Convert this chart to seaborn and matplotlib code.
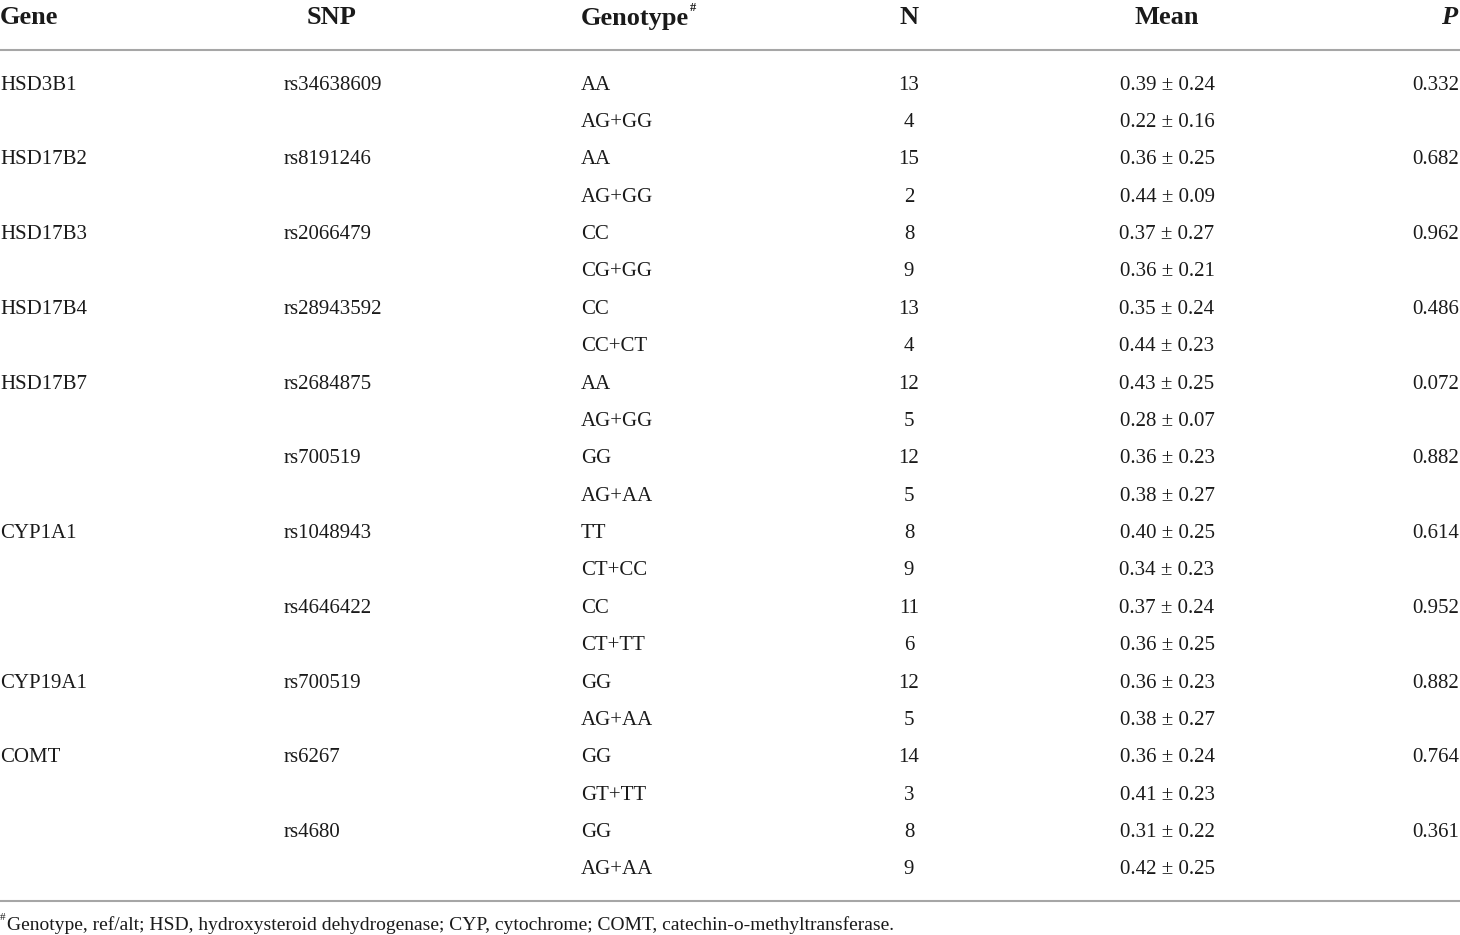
import matplotlib
matplotlib.use("Agg")
import matplotlib.pyplot as plt
import seaborn as sns

# table contents
genes = ["HSD3B1", "", "HSD17B2", "", "HSD17B3", "", "HSD17B4", "", "HSD17B7", "",
         "", "", "CYP1A1", "", "", "", "CYP19A1", "", "COMT", "", "", ""]
snps = ["rs34638609", "", "rs8191246", "", "rs2066479", "", "rs28943592", "", "rs2684875", "",
        "rs700519", "", "rs1048943", "", "rs4646422", "", "rs700519", "", "rs6267", "", "rs4680", ""]
genotypes = ["AA", "AG+GG", "AA", "AG+GG", "CC", "CG+GG", "CC", "CC+CT", "AA", "AG+GG",
             "GG", "AG+AA", "TT", "CT+CC", "CC", "CT+TT", "GG", "AG+AA", "GG", "GT+TT", "GG", "AG+AA"]
n_values = [13, 4, 15, 2, 8, 9, 13, 4, 12, 5, 12, 5, 8, 9, 11, 6, 12, 5, 14, 3, 8, 9]
means = [0.39, 0.22, 0.36, 0.44, 0.37, 0.36, 0.35, 0.44, 0.43, 0.28, 0.36, 0.38,
         0.40, 0.34, 0.37, 0.36, 0.36, 0.38, 0.36, 0.41, 0.31, 0.42]
sds = [0.24, 0.16, 0.25, 0.09, 0.27, 0.21, 0.24, 0.23, 0.25, 0.07, 0.23, 0.27,
       0.25, 0.23, 0.24, 0.25, 0.23, 0.27, 0.24, 0.23, 0.22, 0.25]
p_values = ["0.332", "", "0.682", "", "0.962", "", "0.486", "", "0.072", "",
            "0.882", "", "0.614", "", "0.952", "", "0.882", "", "0.764", "", "0.361", ""]
footnote = "Genotype, ref/alt; HSD, hydroxysteroid dehydrogenase; CYP, cytochrome; COMT, catechin-o-methyltransferase."

sns.set_theme(style="white")
plt.rcParams['font.family'] = ['Liberation Serif', 'DejaVu Serif']

fig = plt.figure(figsize=(14.6, 9.35), dpi=100)
ax = fig.add_axes([0, 0, 1, 1])
ax.set_xlim(0, 1460)
ax.set_ylim(935, 0)
ax.axis("off")

txt = "#1a1a1a"
hsize = 19
bsize = 15

# header
head_y = 18
ax.text(0, head_y, "Gene", fontsize=hsize, fontweight="bold", ha="left", va="center", color=txt)
ax.text(332, head_y, "SNP", fontsize=hsize, fontweight="bold", ha="center", va="center", color=txt)
ax.text(581, head_y, "Genotype", fontsize=hsize, fontweight="bold", ha="left", va="center", color=txt)
ax.text(690, 8, "#", fontsize=9, fontweight="bold", ha="left", va="center", color=txt)
ax.text(909, head_y, "N", fontsize=hsize, fontweight="bold", ha="center", va="center", color=txt)
ax.text(1167, head_y, "Mean", fontsize=hsize, fontweight="bold", ha="center", va="center", color=txt)
ax.text(1457, head_y, "P", fontsize=hsize, fontweight="bold", fontstyle="italic",
        ha="right", va="center", color=txt)

ax.axhline(50, color="#a6a6a6", lw=1.5)
ax.axhline(901, color="#a6a6a6", lw=1.5)

# body rows
y0, step = 85, 37.38
for i in range(len(genotypes)):
    y = y0 + i * step
    ax.text(0, y, genes[i], fontsize=bsize, ha="left", va="center", color=txt)
    ax.text(284, y, snps[i], fontsize=bsize, ha="left", va="center", color=txt)
    ax.text(581, y, genotypes[i], fontsize=bsize, ha="left", va="center", color=txt)
    ax.text(909, y, str(n_values[i]), fontsize=bsize, ha="center", va="center", color=txt)
    ax.text(1167, y, f"{means[i]:.2f} ± {sds[i]:.2f}", fontsize=bsize, ha="center", va="center", color=txt)
    ax.text(1459, y, p_values[i], fontsize=bsize, ha="right", va="center", color=txt)

# footnote
ax.text(0, 917, "#", fontsize=8, ha="left", va="center", color=txt)
ax.text(7, 925, footnote, fontsize=14, ha="left", va="center", color=txt)

fig.savefig("out.png", dpi=100)
